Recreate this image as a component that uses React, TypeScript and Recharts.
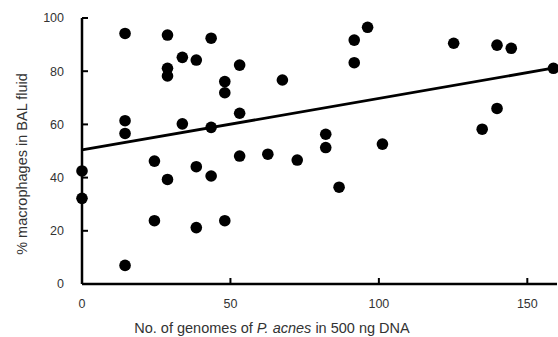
import { Scatter, ScatterChart, XAxis, YAxis } from 'recharts'

// genomes of P. acnes per 500 ng DNA vs % macrophages in BAL fluid
const genomes = [
  0, 0, 14.5, 14.5, 14.5, 14.5, 28.8, 28.8, 28.8, 33.8, 38.5, 43.5, 53.1, 48.1,
  48.1, 53.1, 33.8, 43.5, 24.4, 28.8, 38.5, 43.5, 53.1, 24.4, 38.5, 48.1, 67.5,
  91.7, 96.2, 91.7, 125.2, 139.8, 144.6, 158.8, 139.8, 134.8, 82.1, 82.1, 101.2,
  62.6, 72.5, 86.6,
]
const macrophages = [
  42.5, 32.2, 94.2, 61.4, 56.6, 7.0, 93.6, 81.1, 78.2, 85.2, 84.2, 92.4, 82.3, 76.1,
  71.9, 64.2, 60.2, 58.9, 46.2, 39.3, 44.1, 40.6, 48.1, 23.8, 21.2, 23.8, 76.7,
  91.7, 96.5, 83.2, 90.5, 89.8, 88.6, 81.1, 66.0, 58.2, 56.3, 51.3, 52.6,
  48.8, 46.6, 36.4,
]
// linear fit end points
const fitX = [0, 160]
const fitY = [50.4, 81.4]

const xTicks = [0, 50, 100, 150]
const yTicks = [0, 20, 40, 60, 80, 100]

const points = genomes.map((x, i) => ({ x, y: macrophages[i] }))
const fit = fitX.map((x, i) => ({ x, y: fitY[i] }))

const FONT = '"Liberation Sans", Arial, sans-serif'
const TEXT = '#333'

function Dot(props: { cx?: number; cy?: number }) {
  if (props.cx == null || props.cy == null) return <g />
  return <circle cx={props.cx} cy={props.cy} r={5.8} fill="#000" />
}

export default function App() {
  return (
    <div style={{ position: 'absolute', left: 0, top: 0, width: 558, height: 337, background: '#fff' }}>
      <ScatterChart width={558} height={337} margin={{ top: 18, right: 1, bottom: 0, left: 0 }}>
        <XAxis
          type="number"
          dataKey="x"
          domain={[0, 160]}
          ticks={xTicks}
          height={53}
          tickSize={-6}
          tickMargin={21}
          axisLine={{ stroke: '#000', strokeWidth: 2.5 }}
          tickLine={{ stroke: '#000', strokeWidth: 2 }}
          tick={{ fill: TEXT, fontSize: 12.5, fontFamily: FONT }}
          label={{
            content: () => (
              <text x={272} y={333} textAnchor="middle" fill={TEXT} fontSize={14.5} fontFamily={FONT}>
                No. of genomes of <tspan fontStyle="italic">P. acnes</tspan> in 500 ng DNA
              </text>
            ),
          }}
        />
        <YAxis
          type="number"
          dataKey="y"
          domain={[0, 100]}
          ticks={yTicks}
          width={82}
          tickSize={-6}
          tickMargin={24}
          axisLine={{ stroke: '#000', strokeWidth: 2.5 }}
          tickLine={{ stroke: '#000', strokeWidth: 2 }}
          tick={{ fill: TEXT, fontSize: 12.5, fontFamily: FONT }}
          label={{
            content: () => (
              <text
                x={27}
                y={164}
                textAnchor="middle"
                transform="rotate(-90 27 164)"
                fill={TEXT}
                fontSize={14.5}
                fontFamily={FONT}
              >
                % macrophages in BAL fluid
              </text>
            ),
          }}
        />
        <Scatter
          data={fit}
          line={{ stroke: '#000', strokeWidth: 2.8 }}
          shape={() => <g />}
          isAnimationActive={false}
        />
        <Scatter data={points} shape={<Dot />} isAnimationActive={false} />
      </ScatterChart>
    </div>
  )
}
